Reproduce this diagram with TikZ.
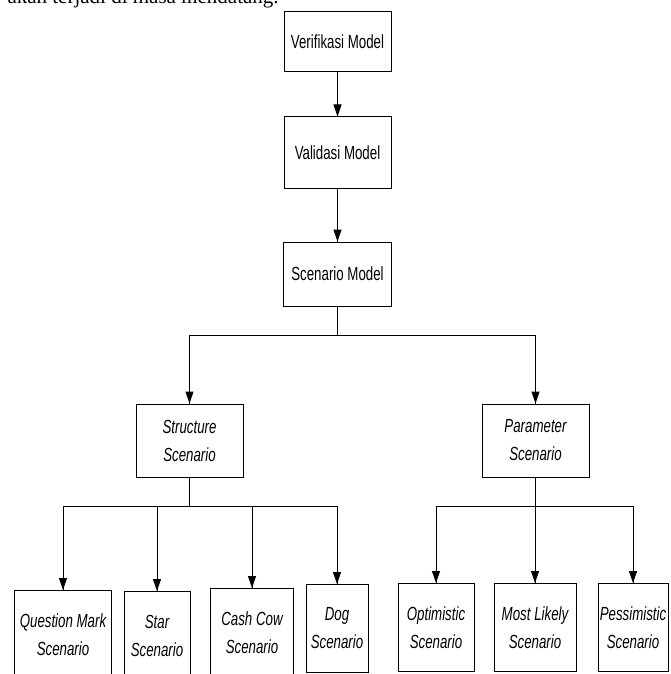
\documentclass[tikz,border=0pt]{standalone}
\usepackage{fontspec}
\setmainfont{Liberation Sans}[FakeStretch=0.7]
\newfontfamily\pageserif{Liberation Serif}
\usetikzlibrary{arrows.meta}
\usetikzlibrary{decorations.markings}
\tikzset{->/.style = {decoration={markings,
                                  mark=at position 1 with {\arrow{Triangle[width=8pt,length=12pt]}}},
                      postaction={decorate}}}
\tikzset{box/.style = {draw, line width=1pt, inner sep=0pt, align=center,
                       font=\fontsize{19}{28}\selectfont}}
\tikzset{leaf/.style = {box, font=\fontsize{19}{28}\selectfont\itshape}}

\begin{document}
\begin{tikzpicture}[x=1pt, y=-1pt, line width=1pt]
    \useasboundingbox (0, 0) rectangle (670, 674);
    \clip (0, 0) rectangle (670, 674);
    \node [anchor=base west, inner sep=0pt, font=\pageserif\fontsize{21}{25}\selectfont] (intro) at (7, 4) {akan terjadi di masa mendatang.};

    \node [box, minimum width=107pt, minimum height=60pt] (verif) at (337.5, 42) {Verifikasi Model};
    \node [box, minimum width=107pt, minimum height=71pt] (valid) at (337.5, 152.5) {Validasi Model};
    \node [box, minimum width=108pt, minimum height=64pt] (scen) at (337.5, 274) {Scenario Model};
    \draw [->] (verif) -- (valid);
    \draw [->] (valid) -- (scen);

    \node [leaf, minimum width=107pt, minimum height=73pt] (struct) at (189.5, 440.5) {Structure\\Scenario};
    \node [leaf, minimum width=107pt, minimum height=73pt] (param) at (535.5, 440.5) {Parameter\\Scenario};
    \coordinate (split) at (337.5, 335);
    \draw (scen) -- (split);
    \draw [->] (split) -| (struct);
    \draw [->] (split) -| (param);

    \foreach \name/\x/\top/\w/\txt in {qmark/63/590/97/{Question Mark\\Scenario},
                                       star/157/591/66/{Star\\Scenario},
                                       cow/252/588/83/{Cash Cow\\Scenario},
                                       dog/337/584/62/{Dog\\Scenario},
                                       optim/436/583/76/{Optimistic\\Scenario},
                                       likely/535/583/82/{Most Likely\\Scenario},
                                       pessim/633/583/70/{Pessimistic\\Scenario}} {
      \node [leaf, anchor=north, minimum width=\w pt, minimum height=88pt] (\name) at (\x, \top) {\txt};
    }

    \coordinate (left) at (189.5, 506);
    \coordinate (right) at (535.5, 506);
    \draw (struct) -- (left);
    \draw (param) -- (right);
    \foreach \n in {qmark, star, cow, dog} {
      \draw [->] (left) -| (\n);
    }
    \foreach \n in {optim, likely, pessim} {
      \draw [->] (right) -| (\n);
    }
  \end{tikzpicture}
\end{document}
